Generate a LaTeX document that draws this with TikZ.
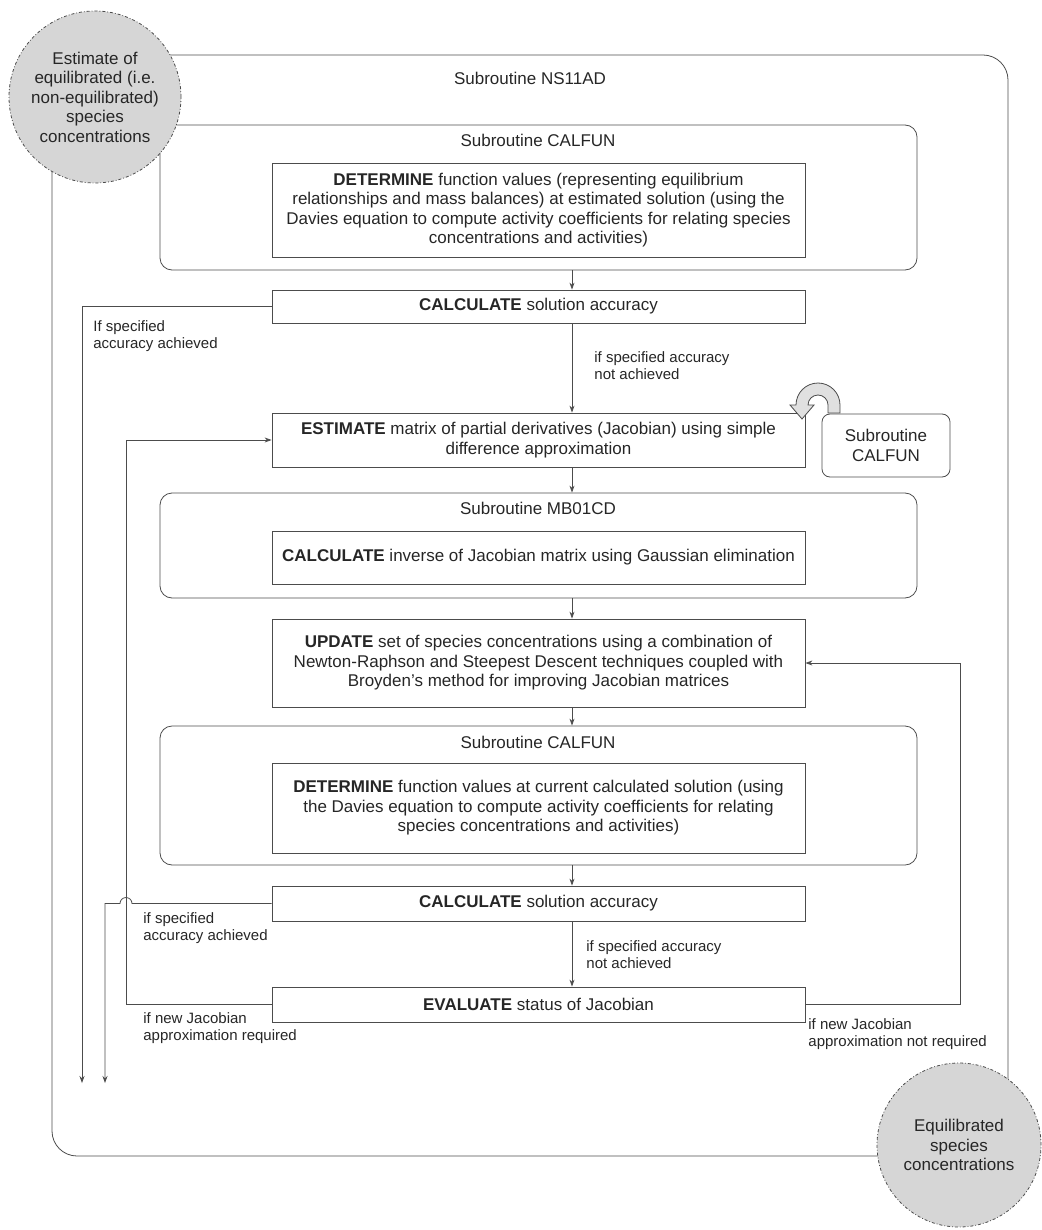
\documentclass[tikz,border=0pt]{standalone}
\usepackage{fontspec}
\setmainfont{Liberation Sans}
\usetikzlibrary{arrows.meta}
\newcommand{\boxfont}{\fontsize{17}{19.5}\selectfont}
\newcommand{\notefont}{\fontsize{15}{17}\selectfont}

\begin{document}
\begin{tikzpicture}[x=1pt,y=-1pt,draw=black!70,text=black!85,line width=0.8pt]
    \tikzstyle{flow}=[-{Stealth[length=7pt,width=5pt]}]
    \tikzstyle{process}=[rectangle,draw,minimum width=533pt,inner xsep=4pt,align=center,font=\boxfont]
    \tikzstyle{subframe}=[rectangle,draw,rounded corners=12pt,minimum width=757pt]
    \tikzstyle{terminal}=[circle,draw,dash dot,fill=black!16,inner sep=0pt,align=center,font=\boxfont]
    \tikzstyle{title}=[font=\boxfont]
    \tikzstyle{annot}=[anchor=west,inner sep=2pt,align=left,font=\notefont]

    \useasboundingbox (0,0) rectangle (1041,1230);

    % Draw the subroutine frames
    \node[subframe,rounded corners=25pt,minimum width=956pt,minimum height=1101pt] (ns) at (530,605.5) {};
    \node[subframe,minimum height=145pt] (cf1) at (538.5,197.5) {};
    \node[subframe,minimum height=105pt] (mb) at (538.5,545.5) {};
    \node[subframe,minimum height=139pt] (cf2) at (538.5,795.5) {};

    \node[title] (tns) at (530,78) {Subroutine NS11AD};
    \node[title] (tcf1) at (538,140) {Subroutine CALFUN};
    \node[title] (tmb) at (538,508) {Subroutine MB01CD};
    \node[title] (tcf2) at (538,742) {Subroutine CALFUN};

    % Draw the process boxes
    \node[process,minimum height=94pt] (det1) at (538.5,210) {\textbf{DETERMINE} function values (representing equilibrium\\relationships and mass balances) at estimated solution (using the\\Davies equation to compute activity coefficients for relating species\\concentrations and activities)};
    \node[process,minimum height=33pt] (calc1) at (538.5,306.5) {\textbf{CALCULATE} solution accuracy};
    \node[process,minimum height=54pt] (est) at (538.5,440) {\textbf{ESTIMATE} matrix of partial derivatives (Jacobian) using simple\\difference approximation};
    \node[process,minimum height=53pt] (inv) at (538.5,557.5) {\textbf{CALCULATE} inverse of Jacobian matrix using Gaussian elimination};
    \node[process,minimum height=88pt] (upd) at (538.5,663) {\textbf{UPDATE} set of species concentrations using a combination of\\Newton-Raphson and Steepest Descent techniques coupled with\\Broyden's method for improving Jacobian matrices};
    \node[process,minimum height=90pt] (det2) at (538.5,808) {\textbf{DETERMINE} function values at current calculated solution (using\\the Davies equation to compute activity coefficients for relating\\species concentrations and activities)};
    \node[process,minimum height=35pt] (calc2) at (538.5,903.5) {\textbf{CALCULATE} solution accuracy};
    \node[process,minimum height=35pt] (eval) at (538.5,1004.5) {\textbf{EVALUATE} status of Jacobian};

    \node[rectangle,draw,rounded corners=8pt,minimum width=128pt,minimum height=63pt,align=center,font=\boxfont] (sub) at (886,445.5) {Subroutine\\CALFUN};

    % Draw the start and end concentrations
    \node[terminal,minimum size=172pt] (start) at (95,97) {Estimate of\\equilibrated (i.e.\\non-equilibrated)\\species\\concentrations};
    \node[terminal,minimum size=164pt] (finish) at (959,1145) {Equilibrated\\species\\concentrations};

    % Connect the steps down the main line
    \coordinate (spine) at (572,0);
    \foreach \src/\dst in {cf1/calc1,calc1/est,est/mb,mb/upd,upd/cf2,cf2/calc2,calc2/eval}
        \draw[flow] (\src.south -| spine) -- (\dst.north -| spine);

    % Exits and loops back
    \coordinate (acc1) at (82,1083);
    \coordinate (acc2) at (105,1083);
    \coordinate (jac) at (126,0);
    \coordinate (njac) at (960,0);
    \draw[flow] (calc1.west) -| (acc1);
    \draw[flow] (eval.west) -| (jac |- est.west) -- (est.west);
    \draw[flow] (calc2.west) -- (132,903.5) arc[start angle=0,end angle=-180,radius=6] -- (acc2 |- calc2.west) -- (acc2);
    \draw[flow] (eval.east) -| (njac |- upd.east) -- (upd.east);

    % Call of CALFUN from the Jacobian estimate
    \draw[fill=black!12] (828,413) -- (828,405) arc[start angle=0,end angle=-180,radius=10] -- (814,405) -- (802,419) -- (790,405) -- (796,405) arc[start angle=-180,end angle=0,radius=22] -- (840,413) -- cycle;

    % Annotate the branches
    \node[annot] (n1) at (91,336) {If specified\\accuracy achieved};
    \node[annot] (n2) at (592,366) {if specified accuracy\\not achieved};
    \node[annot] (n3) at (141,928) {if specified\\accuracy achieved};
    \node[annot] (n4) at (584,955) {if specified accuracy\\not achieved};
    \node[annot] (n5) at (141,1028) {if new Jacobian\\approximation required};
    \node[annot] (n6) at (806,1034) {if new Jacobian\\approximation not required};
\end{tikzpicture}
\end{document}
